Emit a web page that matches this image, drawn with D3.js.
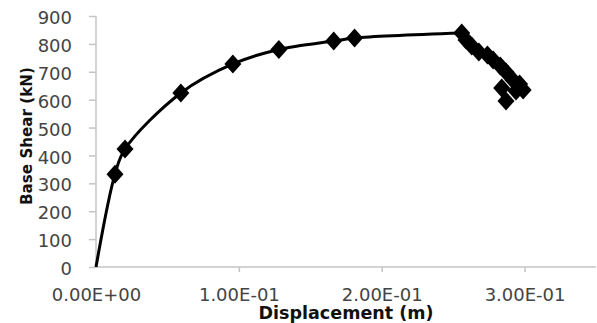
<!DOCTYPE html>
<html>
<head>
<meta charset="utf-8">
<script src="https://cdn.jsdelivr.net/npm/d3@7"></script>
<style>
  body { margin: 0; background: #fff; }
  svg { display: block; }
</style>
</head>
<body>
<svg id="chart" width="597" height="323"></svg>
<script>
// pushover curve (displacement in m, base shear in kN)
const curveDisp  = [0, 0.0133, 0.0203, 0.0594, 0.0958, 0.128, 0.1664, 0.181, 0.256];
const curveShear = [0, 333, 423, 624, 728, 780, 810, 821, 839];
// points after peak
const tailDisp  = [0.256, 0.259, 0.263, 0.268, 0.274, 0.278, 0.283, 0.287, 0.292, 0.2965, 0.299, 0.294, 0.284, 0.287];
const tailShear = [839, 814, 792, 771, 760, 742, 721, 699, 670, 656, 635, 631, 642, 595];
// markers on the curve (origin has none)
const markerIdx = [1, 2, 3, 4, 5, 6, 7];

const xTicks = [0, 0.1, 0.2, 0.3];
const yTicks = [0, 100, 200, 300, 400, 500, 600, 700, 800, 900];

const margin = {top: 16, right: 1, bottom: 56, left: 96};
const width = 597 - margin.left - margin.right;
const height = 323 - margin.top - margin.bottom;

const svg = d3.select("#chart");
const g = svg.append("g").attr("transform", "translate(" + margin.left + "," + margin.top + ")");

const x = d3.scaleLinear().domain([0, 0.35]).range([0, width]);
const y = d3.scaleLinear().domain([0, 900]).range([height, 0]);

const axisColor = "#c4c4c4";
const labelColor = "#444";
const font = "DejaVu Sans, sans-serif";

// y axis
const yAxis = g.append("g").call(d3.axisLeft(y).tickValues(yTicks).tickSize(7).tickPadding(17));
// x axis
const xAxis = g.append("g").attr("transform", "translate(0," + height + ")")
  .call(d3.axisBottom(x).tickValues(xTicks).tickSize(5).tickPadding(16)
    .tickFormat(d => d === 0 ? "0.00E+00" : d3.format(".2e")(d).replace("e-", "E-0")));

[yAxis, xAxis].forEach(ax => {
  ax.select(".domain").attr("stroke", axisColor).attr("stroke-width", 1.5);
  ax.selectAll(".tick line").attr("stroke", axisColor).attr("stroke-width", 1.5);
  ax.selectAll(".tick text").attr("fill", labelColor).style("font-family", font).style("font-size", "18px");
});
xAxis.select(".domain").attr("d", "M0,0H" + width);
yAxis.select(".domain").attr("d", "M0,0V" + height);
xAxis.selectAll(".tick line").filter(d => d === 0).remove();
yAxis.selectAll(".tick text").attr("dy", "0.42em");

// lines
const curveData = curveDisp.map((d, i) => ({x: d, y: curveShear[i]}));
const tailData = tailDisp.map((d, i) => ({x: d, y: tailShear[i]}));

g.append("path")
  .datum(curveData)
  .attr("fill", "none")
  .attr("stroke", "#000")
  .attr("stroke-width", 3)
  .attr("stroke-linejoin", "round")
  .attr("d", d3.line().x(d => x(d.x)).y(d => y(d.y)).curve(d3.curveCatmullRom.alpha(0.5)));

g.append("path")
  .datum(tailData)
  .attr("fill", "none")
  .attr("stroke", "#000")
  .attr("stroke-width", 2)
  .attr("d", d3.line().x(d => x(d.x)).y(d => y(d.y)));

// diamond markers
const diamond = "M0,-9.5L8.5,0L0,9.5L-8.5,0Z";
const markers = markerIdx.map(i => curveData[i]).concat(tailData);
g.selectAll(".marker")
  .data(markers)
  .join("path")
  .attr("class", "marker")
  .attr("transform", d => "translate(" + x(d.x) + "," + y(d.y) + ")")
  .attr("d", diamond)
  .attr("fill", "#000");

// axis titles
svg.append("text")
  .attr("x", margin.left + width / 2)
  .attr("y", 319)
  .attr("text-anchor", "middle")
  .attr("textLength", 175)
  .attr("lengthAdjust", "spacingAndGlyphs")
  .style("font-family", font)
  .style("font-weight", "bold")
  .style("font-size", "17px")
  .attr("fill", "#111")
  .text("Displacement (m)");

svg.append("text")
  .attr("transform", "translate(32," + 136 + ") rotate(-90)")
  .attr("text-anchor", "middle")
  .attr("textLength", 138)
  .attr("lengthAdjust", "spacingAndGlyphs")
  .style("font-family", font)
  .style("font-weight", "bold")
  .style("font-size", "16px")
  .attr("fill", "#111")
  .text("Base Shear (kN)");
</script>
</body>
</html>
